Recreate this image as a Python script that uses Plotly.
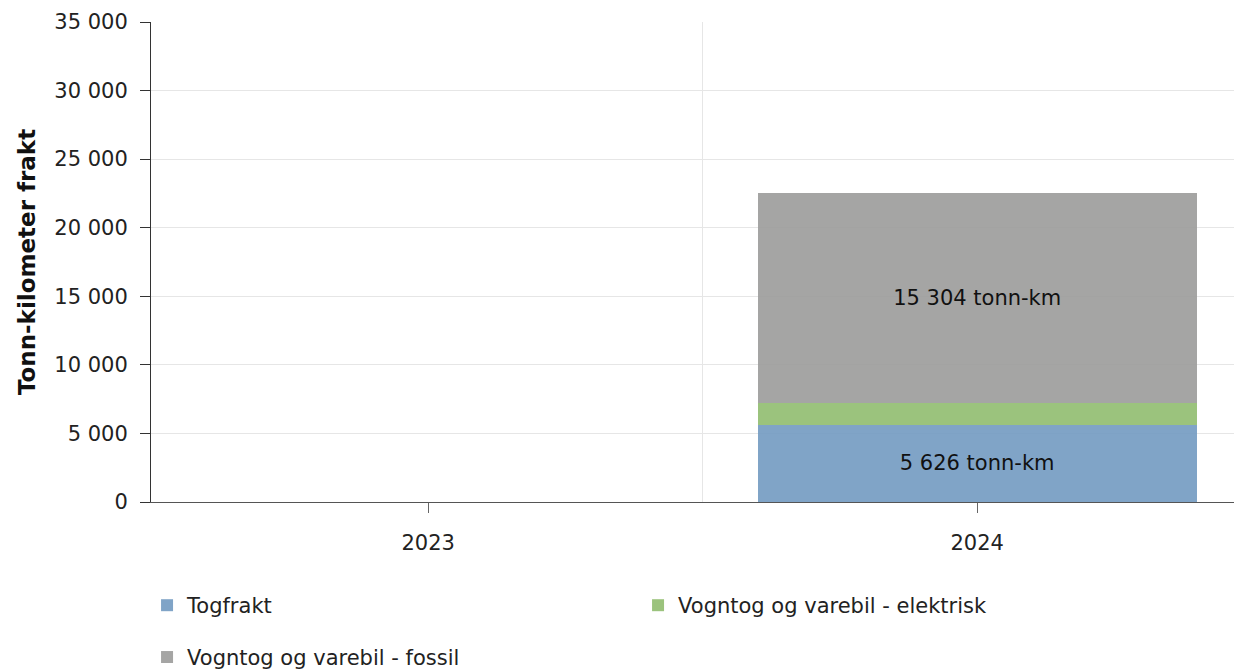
import plotly.graph_objects as go

# data
years = [2023, 2024]
togfrakt = [None, 5626]
elektrisk = [None, 1593]
fossil = [None, 15304]

series = [
    ("Togfrakt", togfrakt, "rgba(114,154,193,0.9)", True, "legend"),
    ("Vogntog og varebil - elektrisk", elektrisk, "rgba(144,189,111,0.9)", False, "legend"),
    ("Vogntog og varebil - fossil", fossil, "rgba(155,155,154,0.9)", True, "legend2"),
]

FONT = "Verdana, DejaVu Sans, sans-serif"
FS = 21

fig = go.Figure()
for name, vals, fill, label, leg in series:
    fig.add_trace(go.Bar(
        x=years, y=vals, name=name, width=0.8, legend=leg,
        marker=dict(color=fill, line=dict(width=0)),
        texttemplate="%{y:,} tonn-km" if label else None,
        textposition="inside" if label else "none",
        insidetextanchor="middle",
        textfont=dict(family=FONT, size=FS, color="#111"),
        hoverinfo="skip",
    ))

legend_style = dict(
    orientation="h", xanchor="left", yanchor="top",
    entrywidth=446, entrywidthmode="pixels",
    font=dict(family=FONT, size=FS, color="#222"),
    traceorder="normal", bgcolor="rgba(0,0,0,0)",
)

fig.update_layout(
    barmode="stack",
    width=1242, height=671,
    margin=dict(l=143, r=0, t=14, b=177),
    paper_bgcolor="white", plot_bgcolor="white",
    separators=", ",
    font=dict(family=FONT, size=FS, color="#222"),
    showlegend=True,
    legend=dict(x=-0.0036, y=-0.173, **legend_style),
    legend2=dict(x=-0.0036, y=-0.281, **legend_style),
    uniformtext=dict(mode="show", minsize=10),
)

fig.update_xaxes(
    range=[2022.495, 2024.497],
    tickmode="array", tickvals=years, ticktext=[str(y) for y in years],
    ticks="outside", ticklen=10, tickcolor="#666", tickwidth=1,
    showline=True, linecolor="#555", linewidth=1,
    showgrid=False, zeroline=False,
    minor=dict(tickmode="array", tickvals=[2023.5], showgrid=True,
               gridcolor="#e6e6e6", gridwidth=1, ticks=""),
    ticklabelstandoff=12,
)
fig.update_yaxes(
    range=[0, 35000], dtick=5000, tickformat=",d",
    ticks="outside", ticklen=10, tickcolor="#333", tickwidth=1,
    showline=True, linecolor="#333", linewidth=1,
    showgrid=True, gridcolor="#e6e6e6", gridwidth=1, zeroline=False,
    ticklabelstandoff=8,
    title=dict(text="<b>Tonn-kilometer frakt</b>", standoff=12,
               font=dict(family=FONT, size=23, color="#111")),
)

fig.write_html("out.html")
